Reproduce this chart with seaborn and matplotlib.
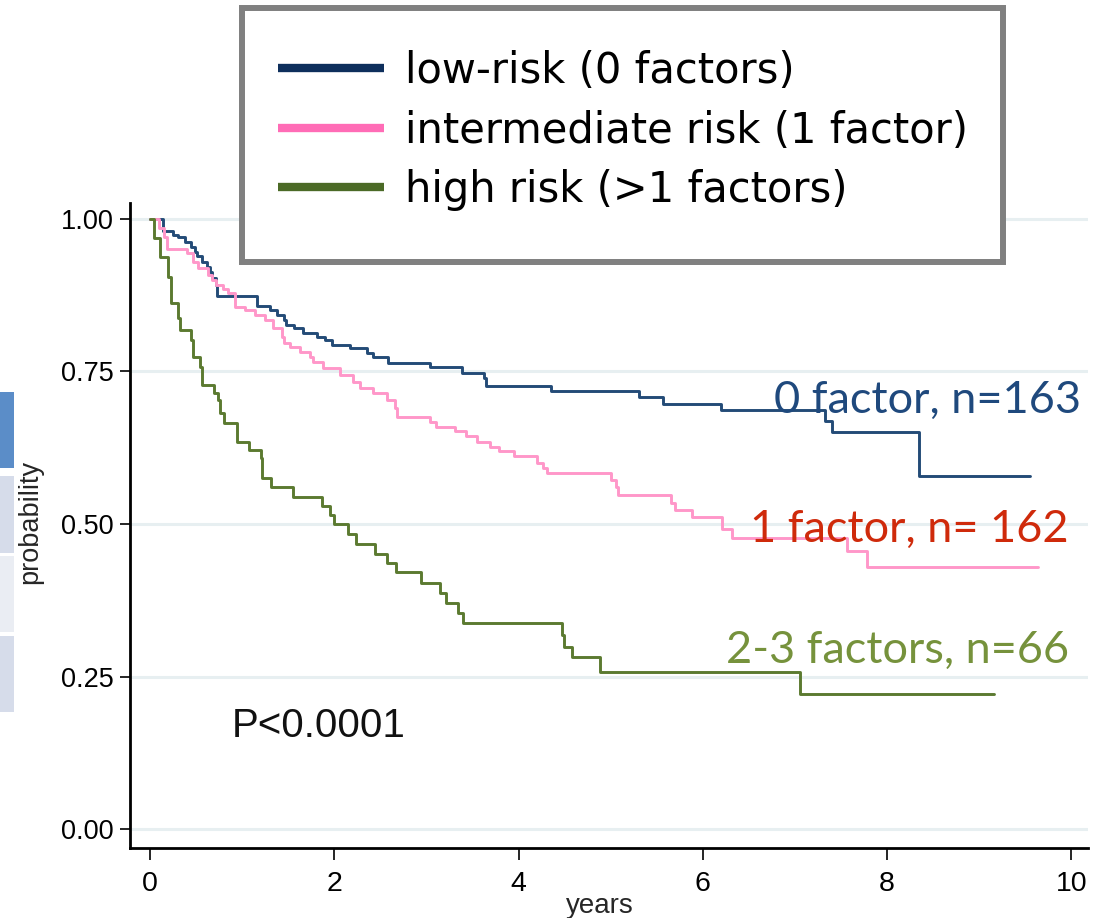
import matplotlib
matplotlib.use("Agg")
import matplotlib.pyplot as plt
from matplotlib.lines import Line2D
from matplotlib.patches import Rectangle
import pandas as pd
import seaborn as sns

# Kaplan-Meier survival estimates by number of risk factors
groups = ["low-risk (0 factors)", "intermediate risk (1 factor)", "high risk (>1 factors)"]

low_years = [0, 0.14, 0.25, 0.30, 0.38, 0.45, 0.49, 0.51, 0.56, 0.62, 0.65, 0.67, 0.72, 0.73,
             1.16, 1.30, 1.38, 1.45, 1.48, 1.56, 1.66, 1.81, 1.90, 1.97, 2.17, 2.36, 2.42, 2.58,
             3.04, 3.39, 3.63, 3.65, 4.35, 5.31, 5.57, 6.20, 7.33, 7.40, 8.35, 9.55]
low_surv = [1.0, 0.98, 0.974, 0.97, 0.962, 0.954, 0.946, 0.939, 0.93, 0.921, 0.913, 0.903, 0.892, 0.873,
            0.857, 0.851, 0.843, 0.834, 0.826, 0.821, 0.813, 0.807, 0.802, 0.793, 0.789, 0.78, 0.774, 0.764,
            0.757, 0.748, 0.74, 0.726, 0.718, 0.708, 0.697, 0.686, 0.669, 0.651, 0.579, 0.579]

mid_years = [0, 0.10, 0.15, 0.18, 0.40, 0.47, 0.52, 0.63, 0.67, 0.72, 0.79, 0.85, 0.92, 1.03, 1.14,
             1.25, 1.34, 1.43, 1.45, 1.52, 1.63, 1.74, 1.77, 1.88, 2.06, 2.20, 2.28, 2.42, 2.57, 2.66,
             2.68, 3.04, 3.10, 3.31, 3.43, 3.55, 3.69, 3.79, 3.95, 4.20, 4.26, 4.31, 5.00, 5.06, 5.08,
             5.65, 5.70, 5.88, 6.21, 6.32, 7.56, 7.78, 9.64]
mid_surv = [1.0, 0.985, 0.97, 0.95, 0.944, 0.93, 0.92, 0.908, 0.90, 0.892, 0.885, 0.879, 0.856, 0.851, 0.843,
            0.834, 0.821, 0.807, 0.797, 0.79, 0.782, 0.774, 0.766, 0.756, 0.744, 0.733, 0.723, 0.715, 0.703, 0.69,
            0.675, 0.667, 0.659, 0.652, 0.644, 0.634, 0.626, 0.62, 0.611, 0.60, 0.592, 0.584, 0.572, 0.56, 0.548,
            0.534, 0.523, 0.511, 0.492, 0.477, 0.456, 0.429, 0.429]

high_years = [0, 0.04, 0.11, 0.20, 0.23, 0.30, 0.33, 0.44, 0.47, 0.54, 0.56, 0.69, 0.74, 0.76, 0.80,
              0.94, 1.07, 1.20, 1.22, 1.31, 1.55, 1.87, 1.95, 2.00, 2.15, 2.24, 2.44, 2.57, 2.67, 2.94,
              3.15, 3.21, 3.34, 3.40, 4.47, 4.49, 4.58, 4.88, 7.05, 9.16]
high_surv = [1.0, 0.969, 0.938, 0.905, 0.862, 0.838, 0.818, 0.802, 0.774, 0.757, 0.728, 0.715, 0.703, 0.682, 0.666,
             0.635, 0.622, 0.608, 0.575, 0.561, 0.545, 0.53, 0.515, 0.50, 0.484, 0.467, 0.451, 0.436, 0.421, 0.403,
             0.387, 0.37, 0.354, 0.338, 0.318, 0.298, 0.282, 0.257, 0.221, 0.221]

curve_labels = ["0 factor, n=163", "1 factor, n= 162", "2-3 factors, n=66"]
p_value_text = "P<0.0001"
x_ticks = [0, 2, 4, 6, 8, 10]
y_ticks = [0.00, 0.25, 0.50, 0.75, 1.00]

line_colors = ["#234b77", "#ff97c9", "#5b7a30"]
legend_colors = ["#0e2f5c", "#ff6cb6", "#4b6a26"]
text_colors = ["#1f497d", "#cf2a0b", "#76923c"]

frames = []
for name, yrs, surv in zip(groups, [low_years, mid_years, high_years],
                           [low_surv, mid_surv, high_surv]):
    frames.append(pd.DataFrame({"years": yrs, "probability": surv, "group": name}))
df = pd.concat(frames, ignore_index=True)

sns.set_style("white")
plt.rcParams["font.family"] = ["Liberation Sans", "DejaVu Sans"]

W, H = 1101, 918
fig = plt.figure(figsize=(W / 100, H / 100), dpi=100)
ax = fig.add_axes([130 / W, 1 - 848 / H, (1088 - 130) / W, (848 - 203) / H])

# horizontal reference lines
for yv in y_ticks:
    ax.axhline(yv, color="#e7eff1", lw=2.2, zorder=0)

sns.lineplot(data=df, x="years", y="probability", hue="group", hue_order=groups,
             palette=line_colors, estimator=None, sort=False, drawstyle="steps-post",
             linewidth=2.1, legend=False, ax=ax, zorder=3)

ax.set_xlim(-0.217, 10.18)
ax.set_ylim(-0.031, 1.026)
ax.set_xticks(x_ticks)
ax.set_xticklabels([str(t) for t in x_ticks])
ax.set_yticks(y_ticks)
ax.set_yticklabels([f"{v:.2f}" for v in y_ticks])

for side in ["top", "right"]:
    ax.spines[side].set_visible(False)
for side in ["left", "bottom"]:
    ax.spines[side].set_linewidth(2.0)
    ax.spines[side].set_color("black")

ax.tick_params(axis="y", direction="out", length=7, width=1.2, pad=5, labelsize=19.5, colors="black", left=True)
ax.tick_params(axis="x", direction="out", length=8.5, width=1.2, pad=8, labelsize=20.5, colors="black", bottom=True)

ax.set_xlabel("years", fontsize=20)
ax.set_ylabel("probability", fontsize=19.5)
ax.xaxis.set_label_coords((600 - 130) / (1088 - 130), -(906 - 848) / (848 - 203), transform=ax.transAxes)
ax.xaxis.label.set_va("center")
ax.yaxis.set_label_coords(-(130 - 30) / (1088 - 130), (848 - 522) / (848 - 203), transform=ax.transAxes)
ax.yaxis.label.set_va("center")

# curve labels at the right end
label_pos = [(10.10, 0.682), (9.97, 0.4705), (9.97, 0.272)]
for txt, (xv, yv), col in zip(curve_labels, label_pos, text_colors):
    ax.text(xv, yv, txt, color=col, fontsize=32.5, family=["Lato", "DejaVu Sans"],
            ha="right", va="baseline", zorder=5)

ax.text(0.89, 0.151, p_value_text, fontsize=29, ha="left", va="baseline", color="#111111")

# legend box: gray frame with the key inside
box = Rectangle((242 / W, 1 - 262 / H), (1003 - 242) / W, (262 - 8) / H,
                transform=fig.transFigure, facecolor="white", edgecolor="#808080",
                linewidth=4.3, zorder=4)
fig.patches.append(box)

handles = [Line2D([0], [0], color=c, lw=6, solid_capstyle="butt") for c in legend_colors]
leg = fig.legend(handles, groups, loc="center left", bbox_to_anchor=(278 / W, 1 - 130.5 / H),
                 bbox_transform=fig.transFigure, frameon=False,
                 prop={"family": "DejaVu Sans", "size": 30}, labelcolor="black",
                 handlelength=2.55, handletextpad=0.5, labelspacing=0.42,
                 borderpad=0, borderaxespad=0)
leg.set_zorder(6)

# side panel strips at the left edge
strips = [(392, 468, "#5b8dc8"), (476, 553, "#d6dcea"), (556, 632, "#eaedf3"), (636, 712, "#d6dcea")]
for top, bot, col in strips:
    fig.patches.append(Rectangle((0, 1 - bot / H), 14 / W, (bot - top) / H,
                                 transform=fig.transFigure, facecolor=col, edgecolor="none"))

fig.savefig("out.png", dpi=100)
